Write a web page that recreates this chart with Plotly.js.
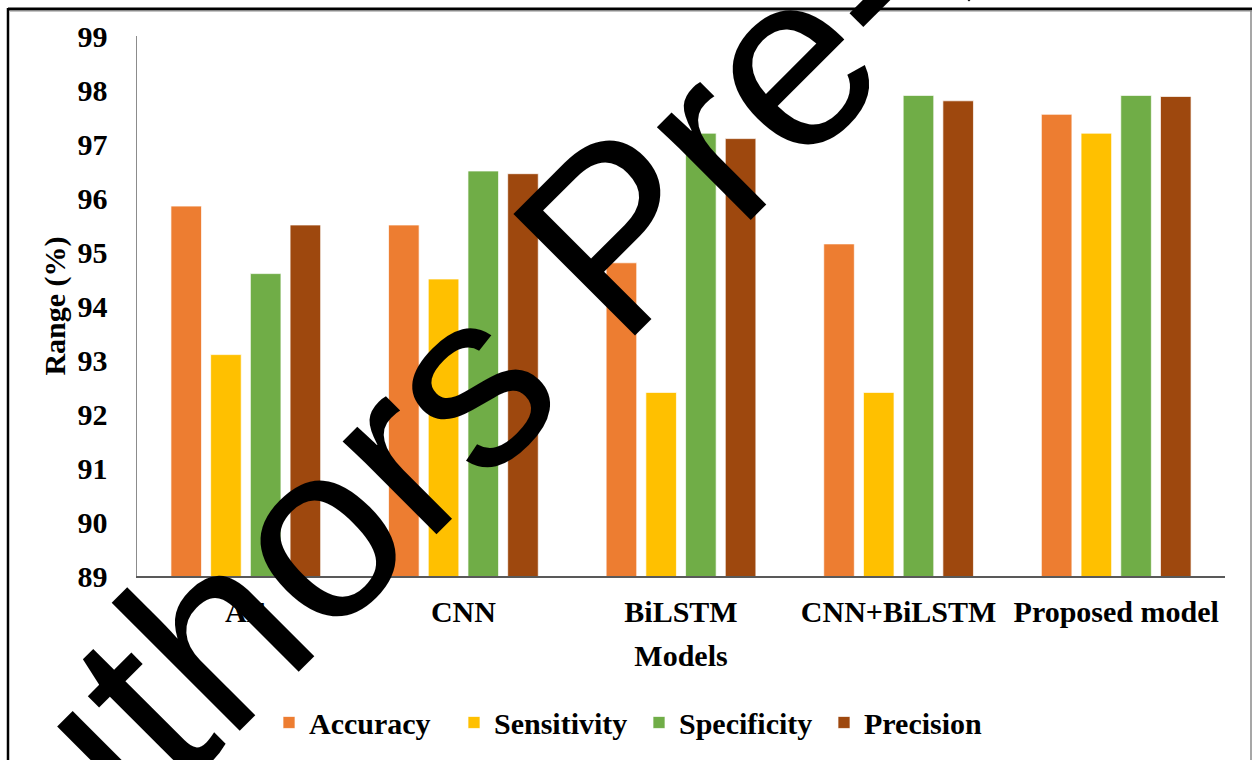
<!DOCTYPE html>
<html>
<head>
<meta charset="utf-8">
<script src="https://cdn.plot.ly/plotly-3.0.1.min.js"></script>
<style>
  html, body { margin: 0; padding: 0; background: #ffffff; }
  #chart { width: 1252px; height: 760px; }
</style>
</head>
<body>
<div id="chart"></div>
<script>
const models = ["AE", "CNN", "BiLSTM", "CNN+BiLSTM", "Proposed model"];
const accuracy    = [95.85, 95.5, 94.8, 95.15, 97.55];
const sensitivity = [93.1, 94.5, 92.4, 92.4, 97.2];
const specificity = [94.6, 96.5, 97.2, 97.9, 97.9];
const precision   = [95.5, 96.45, 97.1, 97.8, 97.88];
const seriesNames = ["Accuracy", "Sensitivity", "Specificity", "Precision"];
const seriesColors = ["#ED7D31", "#FFC000", "#70AD47", "#9E480E"];
const watermarkText = "Authors Pre-Print";

const serif = "Liberation Serif, Times New Roman, serif";
const values = [accuracy, sensitivity, specificity, precision];

const traces = values.map((v, i) => ({
  type: "bar",
  name: seriesNames[i],
  x: models,
  y: v,
  marker: { color: seriesColors[i], line: { color: "rgba(255,255,255,0.7)", width: 1 } },
  hoverinfo: "x+y+name"
}));

// plot-area pixel geometry, used to place the frame and the watermark
const L = 137, R = 1225, T = 36, B = 578;
const px = x => (x - L) / (R - L);
const py = y => (B - y) / (B - T);

const layout = {
  width: 1252,
  height: 760,
  margin: { l: L, r: 1252 - R, t: T, b: 760 - B },
  paper_bgcolor: "#ffffff",
  plot_bgcolor: "#ffffff",
  barmode: "group",
  bargap: 0.27,
  bargroupgap: 0.23,
  font: { family: serif, color: "#000000", size: 30, weight: "bold" },
  xaxis: {
    type: "category",
    showline: true,
    linecolor: "#595959",
    linewidth: 1.5,
    showgrid: false,
    ticks: "",
    ticklabelstandoff: 8,
    tickfont: { family: serif, size: 30, weight: "bold", color: "#000000" },
    title: { text: "Models", font: { family: serif, size: 30, weight: "bold" }, standoff: 18 },
    fixedrange: true
  },
  yaxis: {
    range: [89, 99],
    dtick: 1,
    showline: true,
    linecolor: "#8c8c8c",
    linewidth: 1.5,
    showgrid: false,
    zeroline: false,
    ticks: "",
    ticklabelstandoff: 22,
    tickfont: { family: serif, size: 30, weight: "bold", color: "#000000" },
    title: { text: "Range (%)", font: { family: serif, size: 30, weight: "bold" }, standoff: 3 },
    fixedrange: true
  },
  legend: {
    orientation: "h",
    x: px(269),
    xanchor: "left",
    y: py(725),
    yanchor: "middle",
    entrywidth: 140,
    entrywidthmode: "pixels",
    font: { family: serif, size: 30, weight: "bold", color: "#000000" },
    traceorder: "normal",
    bgcolor: "rgba(0,0,0,0)"
  },
  shapes: [
    { type: "line", xref: "paper", yref: "paper", x0: px(8), x1: px(1252), y0: py(9), y1: py(9), line: { color: "#000000", width: 3 } },
    { type: "line", xref: "paper", yref: "paper", x0: px(10), x1: px(1252), y0: py(11), y1: py(11), line: { color: "#9a9a9a", width: 1 } },
    { type: "line", xref: "paper", yref: "paper", x0: px(8), x1: px(8), y0: py(8), y1: py(780), line: { color: "#000000", width: 2.5 } },
    { type: "line", xref: "paper", yref: "paper", x0: px(1251), x1: px(1251), y0: py(10), y1: py(780), line: { color: "#8a8a8a", width: 1.5 } }
  ],
  annotations: [
    {
      text: watermarkText,
      xref: "paper", yref: "paper",
      x: px(578.6), y: py(270),
      xanchor: "center", yanchor: "middle",
      showarrow: false,
      textangle: -45,
      font: { family: "Liberation Sans, Arial, sans-serif", size: 250, color: "#000000", weight: "normal" }
    }
  ]
};

Plotly.newPlot("chart", traces, layout, { displayModeBar: false, staticPlot: true });
</script>
</body>
</html>
